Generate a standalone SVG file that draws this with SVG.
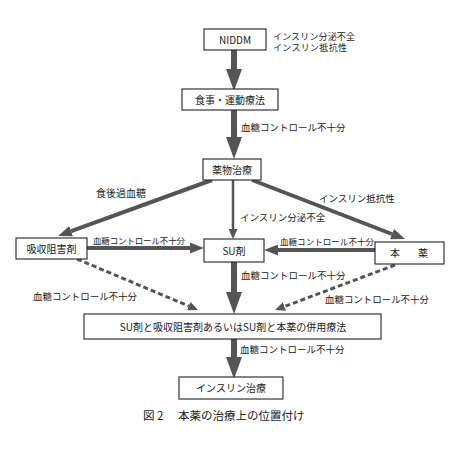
<svg xmlns="http://www.w3.org/2000/svg" width="460" height="450" viewBox="0 0 460 450">
<style>
.box{fill:#fff;stroke:#222;stroke-width:1.1}
.t{font-family:"Noto Sans CJK JP","Liberation Sans",sans-serif;fill:#1a1a1a}
.bl{font-size:10px;text-anchor:middle}
.lb{font-size:9.5px}
.a{stroke:#555;fill:none}
.big{stroke-width:6}
.mid{stroke-width:4}
.thin{stroke-width:2.5}
.dash{stroke-width:3;stroke-dasharray:5 3}
</style>
<defs>
<marker id="hb" markerUnits="userSpaceOnUse" markerWidth="22" markerHeight="16" refX="0" refY="8" orient="auto"><path d="M0,0 L22,8 L0,16 z" fill="#555"/></marker>
<marker id="hm" markerUnits="userSpaceOnUse" markerWidth="14" markerHeight="11" refX="0" refY="5.5" orient="auto"><path d="M0,0 L14,5.5 L0,11 z" fill="#555"/></marker>
<marker id="hs" markerUnits="userSpaceOnUse" markerWidth="10" markerHeight="9" refX="0" refY="4.5" orient="auto"><path d="M0,0 L10,4.5 L0,9 z" fill="#555"/></marker>
</defs>
<rect width="460" height="450" fill="#fff"/>
<g id="connectors">
<line class="a big" x1="234" y1="50" x2="234" y2="69" marker-end="url(#hb)"/>
<line class="a big" x1="234" y1="110" x2="234" y2="137" marker-end="url(#hb)"/>
<line class="a mid" x1="212" y1="180" x2="71.2" y2="231.2" marker-end="url(#hm)"/>
<line class="a thin" x1="233" y1="180" x2="233" y2="229" marker-end="url(#hs)"/>
<line class="a mid" x1="252" y1="180" x2="391.9" y2="234" marker-end="url(#hm)"/>
<line class="a mid" x1="87" y1="248" x2="190" y2="248" marker-end="url(#hm)"/>
<line class="a mid" x1="375" y1="250" x2="278" y2="250" marker-end="url(#hm)"/>
<line class="a big" x1="234" y1="262" x2="234" y2="292" marker-end="url(#hb)"/>
<line class="a dash" x1="77" y1="259" x2="188.8" y2="306.1" marker-end="url(#hs)"/>
<line class="a dash" x1="395" y1="265" x2="284.4" y2="306.5" marker-end="url(#hs)"/>
<line class="a big" x1="234" y1="339" x2="234" y2="357" marker-end="url(#hb)"/>
</g>
<g id="labels">
<text class="t" font-size="9" x="273" y="39.5" textLength="82">インスリン分泌不全</text>
<text class="t" font-size="9" x="273" y="51" textLength="74">インスリン抵抗性</text>
<text class="t lb" x="241" y="131">血糖コントロール不十分</text>
<text class="t" font-size="10" x="96" y="197">食後過血糖</text>
<text class="t lb" x="240" y="221">インスリン分泌不全</text>
<text class="t lb" x="319" y="202">インスリン抵抗性</text>
<text class="t" font-size="8.5" x="93" y="244" textLength="92">血糖コントロール不十分</text>
<text class="t" font-size="8.5" x="280" y="245" textLength="94">血糖コントロール不十分</text>
<text class="t lb" x="241" y="279">血糖コントロール不十分</text>
<text class="t lb" x="33" y="300" textLength="104">血糖コントロール不十分</text>
<text class="t lb" x="325" y="303" textLength="104">血糖コントロール不十分</text>
<text class="t lb" x="240" y="353">血糖コントロール不十分</text>
</g>
<g id="niddm"><rect class="box" x="204" y="29" width="62" height="21"/><text class="t bl" x="235" y="44" font-size="10.5">NIDDM</text></g>
<g id="diet"><rect class="box" x="182" y="89" width="96" height="21"/><text class="t bl" x="230" y="104">食事・運動療法</text></g>
<g id="drug"><rect class="box" x="203" y="159" width="58" height="21"/><text class="t bl" x="232" y="174">薬物治療</text></g>
<g id="absorb"><rect class="box" x="16" y="238" width="71" height="21"/><text class="t bl" x="51.5" y="253">吸収阻害剤</text></g>
<g id="su"><rect class="box" x="204" y="239" width="60" height="23"/><text class="t bl" x="234" y="255">SU剤</text></g>
<g id="honyaku"><rect class="box" x="375" y="242" width="69" height="22"/><text class="t" font-size="10" x="390" y="257">本</text><text class="t" font-size="10" x="418" y="257">薬</text></g>
<g id="combo"><rect class="box" x="84" y="314" width="297" height="25"/><text class="t bl" x="233" y="331" font-size="9.8">SU剤と吸収阻害剤あるいはSU剤と本薬の併用療法</text></g>
<g id="insulin"><rect class="box" x="179" y="377" width="104" height="22"/><text class="t bl" x="231" y="392">インスリン治療</text></g>
<g id="caption"><text class="t" font-size="11.5" fill="#333" x="143" y="420">図 2</text><text class="t" font-size="11.5" x="178" y="420">本薬の治療上の位置付け</text></g>
</svg>
